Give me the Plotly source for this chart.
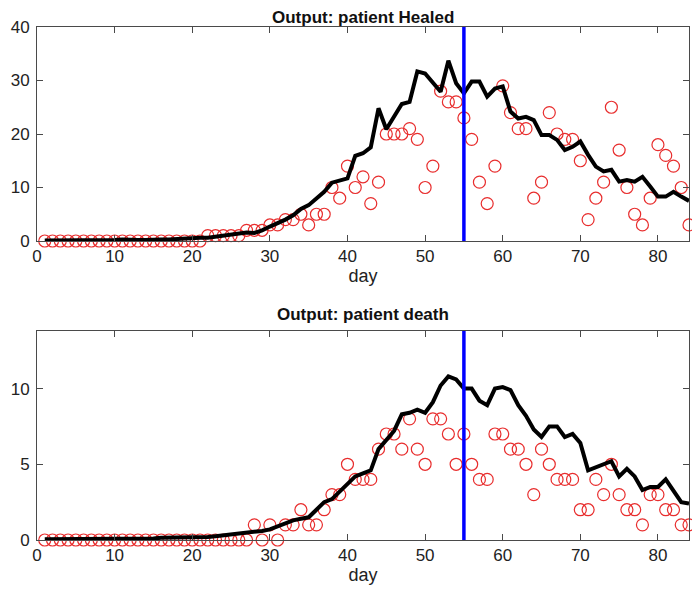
import plotly.graph_objects as go

days = list(range(1, 85))
split_day = 55

healed_obs = [0]*20 + [0, 1, 1, 1, 1, 1, 2, 2, 2, 3, 3, 4, 4,
              5, 3, 5, 5, 10, 8, 14, 10, 12, 7, 11, 20, 20, 20, 21, 19, 10, 14, 28, 26, 26, 23, 19, 11, 7, 14, 29,
              24, 21, 21, 8, 11, 24, 20, 19, 19, 15, 4, 8, 11, 25, 17, 10, 5, 3, 8, 18, 16, 14, 10, 3]

healed_fit = [0.1]*8 + [0.2, 0.2, 0.3, 0.2, 0.2, 0.2, 0.3, 0.3, 0.3, 0.4, 0.4, 0.5, 0.6, 0.6, 0.8, 1.0, 1.1, 1.3,
              1.6, 1.5, 2.0, 2.7, 3.3, 4.0, 4.8,
              6.0, 6.7, 8.0, 9.2, 10.9, 11.3, 11.7, 15.9, 16.4, 17.5, 24.8, 20.9, 23.4, 25.6, 26.0, 31.7, 31.3,
              29.5, 27.9, 33.7, 29.5, 27.6, 29.8, 29.8, 27.0, 28.5, 28.9, 24.2, 22.9, 23.2, 22.6, 19.8, 19.8,
              18.9, 17.0, 17.6, 18.6, 16.1, 13.9, 13.0, 13.3, 11.1, 11.4, 11.1, 12.0, 10.2, 8.3, 8.3, 9.2, 8.3, 7.5]

death_obs = [0]*27 + [1, 0, 1, 0, 1, 1,
             2, 1, 1, 2, 3, 3, 5, 4, 4, 4, 6, 7, 7, 6, 8, 6, 5, 8, 8, 7, 5, 7, 5, 4, 4, 7, 7, 6, 6, 5, 3, 6, 5,
             4, 4, 4, 2, 2, 4, 3, 5, 3, 2, 2, 1, 3, 3, 2, 2, 1, 1]

death_fit = [0.05]*10 + [0.1]*5 + [0.15]*5 + [0.2, 0.2, 0.25, 0.3, 0.35, 0.4, 0.45, 0.5, 0.6, 0.7, 0.9, 1.1, 1.3,
             1.4, 1.5, 2.0, 2.5, 2.7, 3.2, 3.7, 4.2, 4.4, 4.6, 6.0, 6.6, 7.2, 8.3, 8.4, 8.6, 8.4, 9.1, 10.2, 10.8,
             10.6, 10.0, 10.0, 9.2, 8.9, 10.0, 10.1, 9.9, 8.9, 8.2, 7.3, 6.8, 7.5, 7.5, 6.8, 7.0, 6.4, 4.6, 4.8,
             5.0, 5.2, 4.2, 4.7, 4.2, 3.3, 3.5, 3.5, 4.0, 3.3, 2.5, 2.4]

x_ticks = [0, 10, 20, 30, 40, 50, 60, 70, 80]
healed_yticks = [0, 10, 20, 30, 40]
death_yticks = [0, 5, 10]
titles = ["Output: patient Healed", "Output: patient death"]
x_label = "day"

W, H = 700, 599
OFF = 8  # default page body margin
FONT = "Liberation Sans, Arial, sans-serif"
RED = "rgb(232,45,45)"

fig = go.Figure()

panels = [
    (healed_obs, healed_fit, "x", "y"),
    (death_obs, death_fit, "x2", "y2"),
]
for obs, fit, xa, ya in panels:
    fig.add_trace(go.Scatter(x=days, y=obs, mode="markers", xaxis=xa, yaxis=ya,
                             marker=dict(symbol="circle-open", size=12, color=RED, line=dict(width=1.2, color=RED)),
                             showlegend=False, cliponaxis=False))
    fig.add_trace(go.Scatter(x=days, y=fit, mode="lines", xaxis=xa, yaxis=ya,
                             line=dict(color="black", width=4), showlegend=False))

# vertical split lines
for xa, ya in [("x", "y"), ("x2", "y2")]:
    fig.add_shape(type="line", xref=xa, yref=f"{ya} domain", x0=split_day, x1=split_day, y0=0, y1=1,
                  line=dict(color="rgb(0,0,255)", width=3.5), layer="above")

# pixel layout (target window pixels, shifted by the page offset)
L, R = 37 - OFF, 689 - OFF
def fy(py):
    return 1 - (py - OFF) / H

top_dom = [fy(241), fy(27)]
bot_dom = [fy(540), fy(331)]

axis_common = dict(showline=True, mirror="ticks", linecolor="#4a4a4a", linewidth=1, ticks="inside",
                   ticklen=6, tickcolor="#4a4a4a", showgrid=False, zeroline=False, automargin=False,
                   tickfont=dict(family=FONT, size=17, color="#222"))

fig.update_layout(
    width=W, height=H,
    margin=dict(l=L, r=W - R, t=0, b=0),
    paper_bgcolor="white", plot_bgcolor="white",
    xaxis=dict(domain=[0, 1], range=[0, 84], anchor="y", tickvals=x_ticks,
               title=dict(text=x_label, font=dict(family=FONT, size=18, color="#222"), standoff=2),
               **axis_common),
    yaxis=dict(domain=top_dom, range=[0, 40], anchor="x", tickvals=healed_yticks, ticklabelstandoff=3,
               **axis_common),
    xaxis2=dict(domain=[0, 1], range=[0, 84], anchor="y2", tickvals=x_ticks,
                title=dict(text=x_label, font=dict(family=FONT, size=18, color="#222"), standoff=2),
                **axis_common),
    yaxis2=dict(domain=bot_dom, range=[0, 13.8], anchor="x2", tickvals=death_yticks, ticklabelstandoff=3,
                **axis_common),
)

for t, ytop in zip(titles, [17, 315]):
    fig.add_annotation(text=f"<b>{t}</b>", xref="paper", yref="paper", x=0.5, y=fy(ytop),
                       xanchor="center", yanchor="middle", showarrow=False,
                       font=dict(family=FONT, size=17, color="#111"))

fig.write_html("out.html")
